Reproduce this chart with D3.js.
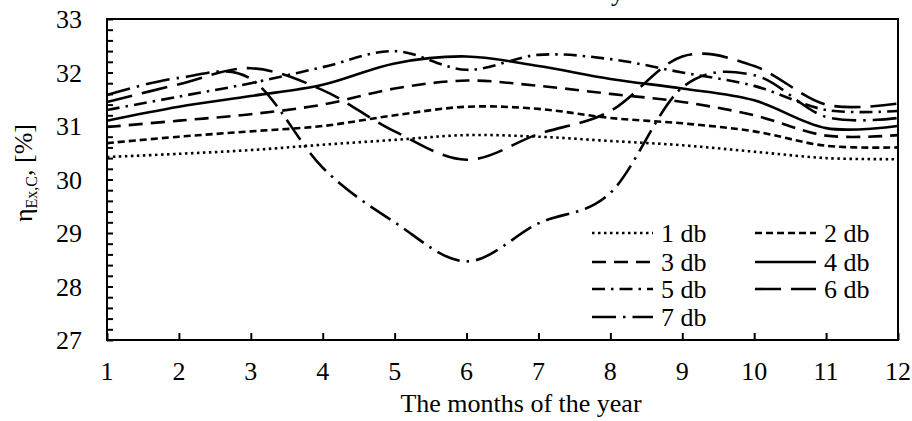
<!DOCTYPE html>
<html>
<head>
<meta charset="utf-8">
<script src="https://cdn.jsdelivr.net/npm/d3@7"></script>
<style>
  html, body { margin: 0; padding: 0; background: #fff; }
  svg { display: block; }
  text { font-family: "Liberation Serif", "Times New Roman", serif; fill: #000; }
</style>
</head>
<body>
<svg id="chart" width="912" height="421"></svg>
<script>
// ---- data ----
const months = [1, 2, 3, 4, 5, 6, 7, 8, 9, 10, 11, 12];
const db1 = [30.42, 30.48, 30.55, 30.65, 30.74, 30.83, 30.80, 30.72, 30.64, 30.52, 30.40, 30.38];
const db2 = [30.68, 30.80, 30.90, 31.00, 31.20, 31.36, 31.32, 31.15, 31.05, 30.90, 30.63, 30.60];
const db3 = [30.98, 31.10, 31.22, 31.40, 31.70, 31.85, 31.75, 31.60, 31.45, 31.20, 30.82, 30.83];
const db4 = [31.10, 31.36, 31.56, 31.77, 32.17, 32.30, 32.12, 31.88, 31.70, 31.48, 30.96, 31.00];
const db5 = [31.30, 31.55, 31.80, 32.10, 32.40, 32.05, 32.33, 32.25, 32.00, 31.75, 31.30, 31.28];
const db6 = [31.45, 31.78, 32.08, 31.67, 30.90, 30.37, 30.85, 31.28, 32.30, 32.12, 31.40, 31.42];
const db7 = [31.58, 31.90, 31.88, 30.22, 29.20, 28.47, 29.18, 29.75, 31.72, 31.95, 31.17, 31.15];
const seriesNames = ["1 db", "2 db", "3 db", "4 db", "5 db", "6 db", "7 db"];
const yTicks = [27, 28, 29, 30, 31, 32, 33];
const xTicks = months;
const xTitle = "The months of the year";

// styles (dash patterns per series)
const dashes = ["2.5,3.5", "7,4", "14,8", null, "13,6,2.5,6", "26,10", "24,7,2.5,7"];
const allSeries = [db1, db2, db3, db4, db5, db6, db7];

// ---- layout ----
const svg = d3.select("#chart");
const L = 107, R = 898, T = 19, B = 340;
const x = d3.scaleLinear().domain([1, 12]).range([L, R]);
const y = d3.scaleLinear().domain([27, 33]).range([B, T]);
const FS = 26;

// clipped title remnant at top
svg.append("text").attr("x", 611).attr("y", 1).attr("font-size", FS).text("y");

// y minor ticks (inside)
const yMinor = d3.range(27, 33.001, 0.2);
svg.append("g").attr("transform", `translate(${L},0)`)
  .call(d3.axisRight(y).tickValues(yMinor).tickSize(6).tickFormat(""))
  .call(g => { g.select(".domain").remove(); g.selectAll("line").attr("stroke", "#000").attr("stroke-width", 2); });

// x ticks (inside, upward)
svg.append("g").attr("transform", `translate(0,${B})`)
  .call(d3.axisTop(x).tickValues(xTicks).tickSize(7).tickFormat(""))
  .call(g => { g.select(".domain").remove(); g.selectAll("line").attr("stroke", "#000").attr("stroke-width", 2); });

// tick labels
svg.append("g").selectAll("text").data(yTicks).join("text")
  .attr("x", 82).attr("y", d => y(d) + 9).attr("text-anchor", "end")
  .attr("font-size", FS).text(d => d);
svg.append("g").selectAll("text").data(xTicks).join("text")
  .attr("x", d => x(d)).attr("y", 380).attr("text-anchor", "middle")
  .attr("font-size", FS).text(d => d);

// lines
const line = d3.line().x((d, i) => x(months[i])).y(d => y(d)).curve(d3.curveCardinal.tension(0));
allSeries.forEach((s, i) => {
  svg.append("path").datum(s)
    .attr("d", line)
    .attr("fill", "none").attr("stroke", "#000").attr("stroke-width", 2.6)
    .attr("stroke-dasharray", dashes[i]);
});

// frame
svg.append("rect").attr("x", L).attr("y", T).attr("width", R - L).attr("height", B - T)
  .attr("fill", "none").attr("stroke", "#000").attr("stroke-width", 2);

// legend
const legendPos = [
  [592, 233], [755, 233],
  [592, 262], [755, 262],
  [592, 289], [755, 289],
  [592, 317]
];
const lg = svg.append("g");
seriesNames.forEach((name, i) => {
  const [lx, ly] = legendPos[i];
  lg.append("line").attr("x1", lx).attr("x2", lx + 61).attr("y1", ly).attr("y2", ly)
    .attr("stroke", "#000").attr("stroke-width", 2.6).attr("stroke-dasharray", dashes[i]);
  lg.append("text").attr("x", lx + 69).attr("y", ly + 9).attr("font-size", FS).text(name);
});

// axis titles
svg.append("text").attr("x", 521).attr("y", 412).attr("text-anchor", "middle")
  .attr("font-size", FS).text(xTitle);

const yt = svg.append("text").attr("transform", "translate(32,173) rotate(-90)")
  .attr("text-anchor", "middle").attr("font-size", FS);
yt.append("tspan").text("η");
yt.append("tspan").attr("font-size", 16).attr("dy", 5).text("Ex,C");
yt.append("tspan").attr("dy", -5).text(", [%]");
</script>
</body>
</html>
